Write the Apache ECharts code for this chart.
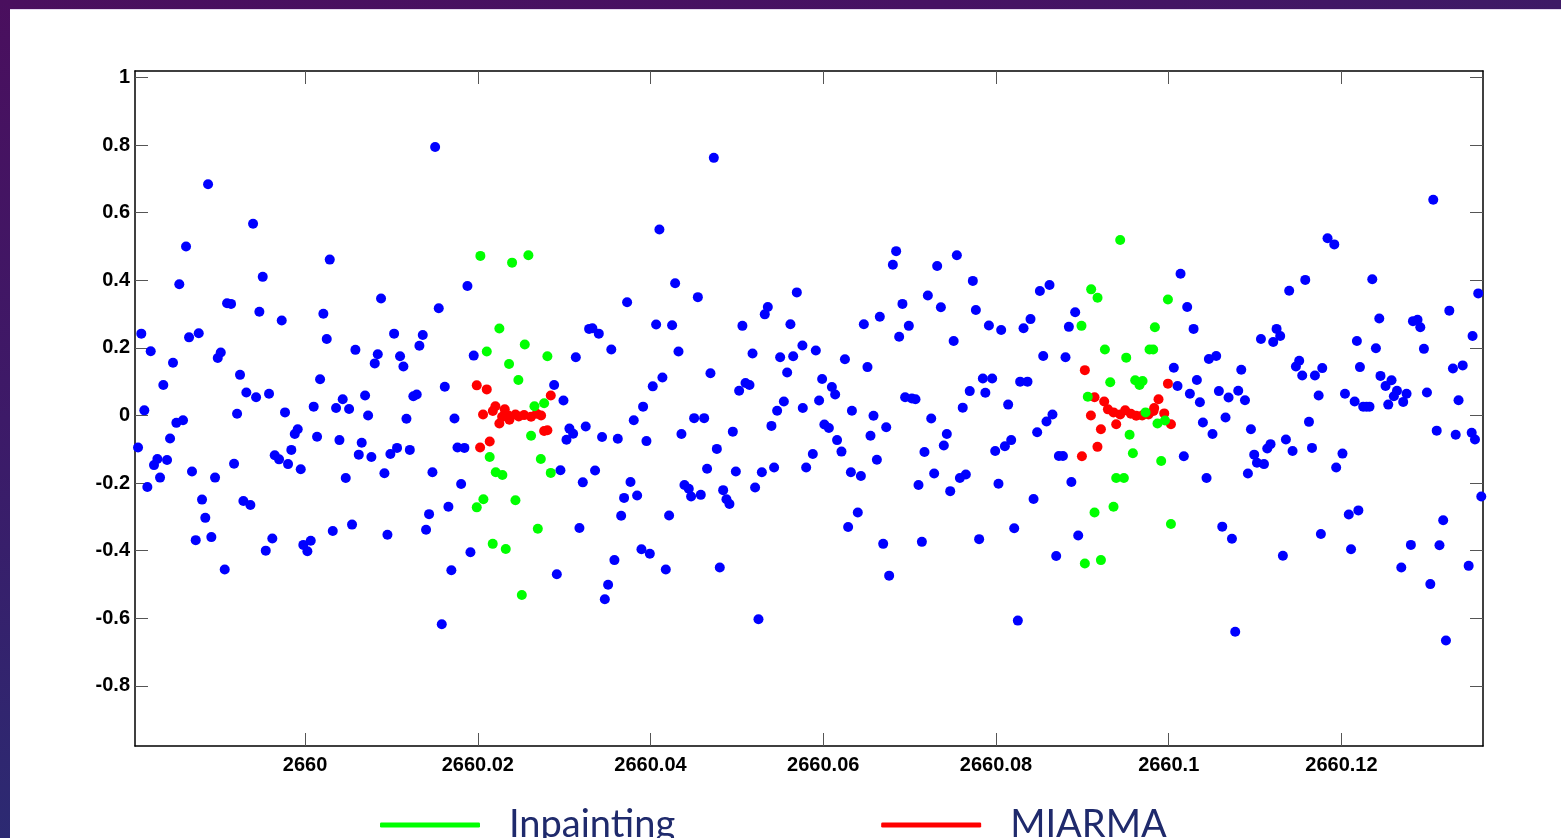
<!DOCTYPE html>
<html>
<head>
<meta charset="utf-8">
<script src="https://cdn.jsdelivr.net/npm/echarts@6/dist/echarts.min.js"></script>
<style>
html, body { margin: 0; padding: 0; background: #ffffff; }
#chart { width: 1561px; height: 838px; }
</style>
</head>
<body>
<div id="chart"></div>
<script>
// Axis ticks and their labels
const xTicks = [2660, 2660.02, 2660.04, 2660.06, 2660.08, 2660.1, 2660.12];
const xTickLabels = ['2660', '2660.02', '2660.04', '2660.06', '2660.08', '2660.1', '2660.12'];
const yTicks = [-0.8, -0.6, -0.4, -0.2, 0, 0.2, 0.4, 0.6, 0.8, 1];
const yTickLabels = ['-0.8', '-0.6', '-0.4', '-0.2', '0', '0.2', '0.4', '0.6', '0.8', '1'];

// Observed light-curve samples [time, flux]
const bluePoints = [
  [2659.98877, 0.684], [2659.99398, 0.567], [2659.98622, 0.500], [2659.99510, 0.410], [2659.98544, 0.388],
  [2659.99097, 0.332], [2659.99143, 0.330], [2659.99471, 0.307], [2659.99730, 0.281], [2659.98104, 0.242],
  [2659.98657, 0.231], [2659.98769, 0.243], [2659.98213, 0.190], [2659.99024, 0.186], [2659.98989, 0.170],
  [2659.98471, 0.156], [2659.99247, 0.120], [2659.98359, 0.090], [2659.99320, 0.068], [2659.99433, 0.054],
  [2659.99583, 0.064], [2659.98139, 0.015], [2659.99213, 0.005], [2659.99768, 0.009], [2659.98510, -0.022],
  [2659.98587, -0.014], [2659.99915, -0.041], [2659.99881, -0.055], [2659.98437, -0.068], [2659.98066, -0.095],
  [2659.99841, -0.102], [2659.98290, -0.129], [2659.98251, -0.147], [2659.98402, -0.132], [2659.99649, -0.118],
  [2659.99699, -0.130], [2659.99178, -0.143], [2659.99803, -0.144], [2659.99950, -0.159], [2659.98691, -0.166],
  [2659.98321, -0.184], [2659.98958, -0.184], [2659.98174, -0.212], [2659.98807, -0.249], [2659.99286, -0.253],
  [2659.99367, -0.265], [2659.98845, -0.303], [2659.98734, -0.369], [2659.98915, -0.360], [2659.99621, -0.364],
  [2659.99545, -0.400], [2659.99070, -0.456],
  [2660.01506, 0.794], [2660.00286, 0.461], [2660.01880, 0.383], [2660.00880, 0.346], [2660.01548, 0.317],
  [2660.00212, 0.301], [2660.00251, 0.226], [2660.01031, 0.242], [2660.01363, 0.238], [2660.01324, 0.206],
  [2660.00583, 0.194], [2660.00842, 0.181], [2660.00807, 0.154], [2660.01100, 0.175], [2660.01139, 0.145],
  [2660.01953, 0.177], [2660.00174, 0.107], [2660.01618, 0.085], [2660.00695, 0.059], [2660.00436, 0.048],
  [2660.00359, 0.022], [2660.00510, 0.019], [2660.00100, 0.026], [2660.01254, 0.057], [2660.01293, 0.062],
  [2660.00730, 0.000], [2660.01174, -0.010], [2660.01730, -0.009], [2660.00139, -0.063], [2660.00398, -0.073],
  [2660.00656, -0.081], [2660.00622, -0.116], [2660.00768, -0.123], [2660.00988, -0.114], [2660.01065, -0.096],
  [2660.01213, -0.102], [2660.01765, -0.095], [2660.01845, -0.096], [2660.00471, -0.185], [2660.00919, -0.171],
  [2660.01475, -0.168], [2660.01807, -0.203], [2660.01660, -0.270], [2660.01436, -0.292], [2660.01401, -0.338],
  [2660.00544, -0.323], [2660.00321, -0.342], [2660.00954, -0.353], [2659.99980, -0.383], [2660.00066, -0.371],
  [2660.00027, -0.402], [2660.01915, -0.405], [2660.01694, -0.458], [2660.01583, -0.618],
  [2660.03729, 0.335], [2660.03289, 0.256], [2660.03327, 0.258], [2660.03401, 0.242], [2660.03546, 0.195],
  [2660.03135, 0.172], [2660.02884, 0.090], [2660.02992, 0.044], [2660.03914, 0.026], [2660.03806, -0.014],
  [2660.03250, -0.033], [2660.03061, -0.039], [2660.03104, -0.054], [2660.03027, -0.072], [2660.03439, -0.064],
  [2660.03621, -0.069], [2660.03953, -0.076], [2660.02957, -0.162], [2660.03358, -0.163], [2660.03216, -0.198],
  [2660.03768, -0.197], [2660.03694, -0.244], [2660.03845, -0.237], [2660.03660, -0.297], [2660.03177, -0.333],
  [2660.03582, -0.428], [2660.02915, -0.470], [2660.03509, -0.501], [2660.03471, -0.544],
  [2660.04733, 0.762], [2660.04103, 0.550], [2660.04285, 0.391], [2660.04548, 0.350], [2660.05694, 0.364],
  [2660.05358, 0.321], [2660.05323, 0.299], [2660.04065, 0.269], [2660.04250, 0.267], [2660.05064, 0.265],
  [2660.05620, 0.270], [2660.04324, 0.189], [2660.05181, 0.183], [2660.05501, 0.172], [2660.05652, 0.175],
  [2660.05759, 0.207], [2660.05914, 0.192], [2660.05582, 0.127], [2660.04694, 0.125], [2660.04138, 0.112],
  [2660.04026, 0.086], [2660.05100, 0.096], [2660.05146, 0.090], [2660.05026, 0.073], [2660.05544, 0.041],
  [2660.05466, 0.014], [2660.05952, 0.044], [2660.05763, 0.022], [2660.04505, -0.008], [2660.04621, -0.008],
  [2660.05400, -0.031], [2660.04953, -0.048], [2660.04358, -0.055], [2660.04768, -0.099], [2660.05879, -0.114],
  [2660.04655, -0.158], [2660.04988, -0.166], [2660.05289, -0.168], [2660.05431, -0.154], [2660.05802, -0.154],
  [2660.04393, -0.206], [2660.04443, -0.217], [2660.04470, -0.240], [2660.04582, -0.235], [2660.04841, -0.221],
  [2660.05211, -0.213], [2660.04879, -0.248], [2660.04914, -0.262], [2660.04215, -0.296], [2660.03895, -0.396],
  [2660.03992, -0.409], [2660.04177, -0.456], [2660.04802, -0.450], [2660.05250, -0.603],
  [2660.06844, 0.486], [2660.06806, 0.446], [2660.07547, 0.474], [2660.07319, 0.442], [2660.07732, 0.398],
  [2660.07211, 0.355], [2660.06917, 0.330], [2660.07362, 0.320], [2660.07767, 0.312], [2660.06655, 0.292],
  [2660.06470, 0.270], [2660.06991, 0.265], [2660.07918, 0.266], [2660.06879, 0.233], [2660.07510, 0.220],
  [2660.06251, 0.166], [2660.06512, 0.143], [2660.05987, 0.108], [2660.06100, 0.084], [2660.06138, 0.062],
  [2660.06948, 0.054], [2660.07026, 0.050], [2660.07068, 0.048], [2660.07696, 0.072], [2660.07877, 0.067],
  [2660.07615, 0.023], [2660.06332, 0.014], [2660.06582, -0.001], [2660.06729, -0.035], [2660.07250, -0.009],
  [2660.06013, -0.027], [2660.06065, -0.037], [2660.06547, -0.060], [2660.07431, -0.055], [2660.07396, -0.089],
  [2660.06160, -0.073], [2660.06211, -0.107], [2660.07172, -0.108], [2660.06621, -0.131], [2660.06320, -0.168],
  [2660.06436, -0.179], [2660.07284, -0.172], [2660.07103, -0.206], [2660.07582, -0.185], [2660.07651, -0.175],
  [2660.07470, -0.224], [2660.06400, -0.287], [2660.06288, -0.330], [2660.06694, -0.380], [2660.07142, -0.374],
  [2660.07805, -0.366], [2660.06763, -0.474],
  [2660.08508, 0.368], [2660.08620, 0.386], [2660.08917, 0.305], [2660.08400, 0.285], [2660.08060, 0.253],
  [2660.08319, 0.258], [2660.08844, 0.262], [2660.08547, 0.176], [2660.08805, 0.172], [2660.07848, 0.109],
  [2660.07956, 0.109], [2660.08280, 0.100], [2660.08365, 0.100], [2660.08141, 0.032], [2660.08654, 0.003],
  [2660.08585, -0.018], [2660.08477, -0.050], [2660.08176, -0.073], [2660.08103, -0.091], [2660.07991, -0.105],
  [2660.08728, -0.120], [2660.08775, -0.120], [2660.08029, -0.202], [2660.08873, -0.197], [2660.08435, -0.247],
  [2660.08211, -0.334], [2660.08952, -0.355], [2660.08697, -0.416], [2660.08253, -0.607],
  [2660.10137, 0.419], [2660.11581, 0.401], [2660.11395, 0.369], [2660.10214, 0.321], [2660.10288, 0.256],
  [2660.11068, 0.226], [2660.11249, 0.256], [2660.11291, 0.235], [2660.11210, 0.217], [2660.10465, 0.167],
  [2660.10550, 0.176], [2660.10840, 0.135], [2660.10059, 0.141], [2660.11473, 0.145], [2660.11511, 0.162],
  [2660.11546, 0.118], [2660.11693, 0.118], [2660.10102, 0.087], [2660.10326, 0.105], [2660.10245, 0.064],
  [2660.10361, 0.039], [2660.10581, 0.072], [2660.10693, 0.053], [2660.10805, 0.073], [2660.10883, 0.045],
  [2660.11736, 0.059], [2660.10658, -0.006], [2660.10396, -0.021], [2660.10507, -0.055], [2660.10952, -0.041],
  [2660.11624, -0.019], [2660.11357, -0.071], [2660.11179, -0.085], [2660.11141, -0.098], [2660.11434, -0.105],
  [2660.11659, -0.096], [2660.10990, -0.116], [2660.11022, -0.140], [2660.11103, -0.144], [2660.10917, -0.172],
  [2660.10175, -0.121], [2660.10438, -0.185], [2660.10620, -0.329], [2660.10732, -0.365], [2660.11322, -0.415],
  [2660.10770, -0.640],
  [2660.11839, 0.524], [2660.11917, 0.506], [2660.13063, 0.638], [2660.12357, 0.403], [2660.13584, 0.361],
  [2660.13249, 0.310], [2660.12438, 0.287], [2660.12828, 0.279], [2660.12881, 0.283], [2660.12913, 0.261],
  [2660.13518, 0.235], [2660.12179, 0.220], [2660.12399, 0.199], [2660.12955, 0.197], [2660.11778, 0.140],
  [2660.12214, 0.143], [2660.13291, 0.139], [2660.13404, 0.148], [2660.12452, 0.117], [2660.12580, 0.104],
  [2660.12511, 0.087], [2660.12643, 0.073], [2660.12607, 0.057], [2660.12754, 0.064], [2660.12715, 0.040],
  [2660.12542, 0.032], [2660.12990, 0.068], [2660.13356, 0.045], [2660.12041, 0.064], [2660.12153, 0.041],
  [2660.12252, 0.026], [2660.12290, 0.026], [2660.12325, 0.026], [2660.13103, -0.045], [2660.13323, -0.057],
  [2660.13508, -0.051], [2660.13546, -0.071], [2660.12012, -0.113], [2660.11939, -0.154], [2660.13619, -0.240],
  [2660.12085, -0.293], [2660.12196, -0.281], [2660.11762, -0.351], [2660.12111, -0.396], [2660.13178, -0.310],
  [2660.12804, -0.383], [2660.13135, -0.384], [2660.12693, -0.450], [2660.13473, -0.445], [2660.13029, -0.499],
  [2660.13210, -0.666]
];

// Gap-filled samples from the inpainting method
const inpaintingPoints = [
  [2660.02030, 0.472], [2660.02397, 0.452], [2660.02586, 0.474], [2660.02250, 0.257], [2660.02544, 0.210],
  [2660.02104, 0.189], [2660.02362, 0.152], [2660.02806, 0.175], [2660.02470, 0.105], [2660.02656, 0.027],
  [2660.02768, 0.036], [2660.02617, -0.060], [2660.02138, -0.123], [2660.02730, -0.129], [2660.02208, -0.168],
  [2660.02285, -0.176], [2660.02845, -0.170], [2660.02065, -0.248], [2660.01988, -0.272], [2660.02436, -0.251],
  [2660.02695, -0.335], [2660.02173, -0.380], [2660.02324, -0.395], [2660.02510, -0.531],
  [2660.09438, 0.519], [2660.09102, 0.373], [2660.09176, 0.348], [2660.08990, 0.265], [2660.09840, 0.261],
  [2660.09991, 0.343], [2660.09261, 0.195], [2660.09778, 0.195], [2660.09820, 0.195], [2660.09508, 0.171],
  [2660.09323, 0.098], [2660.09612, 0.104], [2660.09697, 0.102], [2660.09662, 0.090], [2660.09063, 0.055],
  [2660.09732, 0.009], [2660.09957, -0.015], [2660.09870, -0.024], [2660.09547, -0.057], [2660.09585, -0.112],
  [2660.09913, -0.135], [2660.09392, -0.185], [2660.09481, -0.185], [2660.09141, -0.287], [2660.09361, -0.270],
  [2660.10026, -0.321], [2660.09029, -0.438], [2660.09215, -0.428]
];

// Gap-filled samples from MIARMA
const miarmaPoints = [
  [2660.01988, 0.089], [2660.02104, 0.077], [2660.02845, 0.059], [2660.02061, 0.003], [2660.02204, 0.027],
  [2660.02174, 0.013], [2660.02312, 0.018], [2660.02354, 0.000], [2660.02282, -0.004], [2660.02250, -0.024],
  [2660.02366, -0.013], [2660.02436, 0.003], [2660.02474, -0.003], [2660.02536, 0.001], [2660.02617, -0.004],
  [2660.02683, 0.005], [2660.02733, 0.000], [2660.02768, -0.046], [2660.02806, -0.044], [2660.02138, -0.077],
  [2660.02027, -0.095],
  [2660.09029, 0.134], [2660.09141, 0.054], [2660.09253, 0.041], [2660.09099, 0.000], [2660.09296, 0.018],
  [2660.09361, 0.009], [2660.09438, 0.003], [2660.09496, 0.015], [2660.09562, 0.005], [2660.09624, -0.001],
  [2660.09693, 0.000], [2660.09766, 0.003], [2660.09824, 0.013], [2660.09882, 0.048], [2660.09392, -0.026],
  [2660.09215, -0.041], [2660.09175, -0.093], [2660.08995, -0.121], [2660.09991, 0.094], [2660.09832, 0.022],
  [2660.09948, 0.006], [2660.10026, -0.026]
];

const X_MIN = 2659.98031, X_MAX = 2660.13639;
const Y_MIN = -0.978, Y_MAX = 1.019;

function labelFor(ticks, labels) {
  return function (v) {
    const i = ticks.findIndex(function (t) { return Math.abs(t - v) < 1e-7; });
    return i >= 0 ? labels[i] : '';
  };
}

const frameLine = { show: true, onZero: false, lineStyle: { color: '#000', width: 1.5 } };
const tickStyle = { lineStyle: { color: '#555', width: 1 } };

const chart = echarts.init(document.getElementById('chart'), null, { renderer: 'canvas' });

chart.setOption({
  animation: false,
  backgroundColor: '#ffffff',
  grid: { left: 135, right: 78, top: 71, bottom: 92, containLabel: false },
  xAxis: [
    {
      type: 'value', position: 'bottom', min: X_MIN, max: X_MAX,
      axisLine: frameLine,
      axisTick: Object.assign({ show: true, inside: true, length: 13, customValues: xTicks }, tickStyle),
      axisLabel: {
        show: true, customValues: xTicks, formatter: labelFor(xTicks, xTickLabels),
        color: '#000', fontFamily: 'Liberation Sans, Arial, sans-serif', fontWeight: 'bold', fontSize: 20, margin: 9
      },
      splitLine: { show: false }
    },
    {
      type: 'value', position: 'top', min: X_MIN, max: X_MAX,
      axisLine: frameLine,
      axisTick: Object.assign({ show: true, inside: true, length: 13, customValues: xTicks }, tickStyle),
      axisLabel: { show: false },
      splitLine: { show: false }
    }
  ],
  yAxis: [
    {
      type: 'value', position: 'left', min: Y_MIN, max: Y_MAX,
      axisLine: frameLine,
      axisTick: Object.assign({ show: true, inside: true, length: 13, customValues: yTicks }, tickStyle),
      axisLabel: {
        show: true, customValues: yTicks, formatter: labelFor(yTicks, yTickLabels),
        color: '#000', fontFamily: 'Liberation Sans, Arial, sans-serif', fontWeight: 'bold', fontSize: 20, margin: 5
      },
      splitLine: { show: false }
    },
    {
      type: 'value', position: 'right', min: Y_MIN, max: Y_MAX,
      axisLine: frameLine,
      axisTick: Object.assign({ show: true, inside: true, length: 13, customValues: yTicks }, tickStyle),
      axisLabel: { show: false },
      splitLine: { show: false }
    }
  ],
  legend: {
    left: 380, top: 806, padding: 0,
    itemWidth: 100, itemHeight: 5, itemGap: 206,
    icon: 'roundRect',
    data: ['Inpainting', 'MIARMA'],
    itemStyle: { opacity: 1 },
    textStyle: {
      fontFamily: 'Lato, "Open Sans", sans-serif', fontSize: 38, color: '#1f2a6c',
      padding: [0, 0, 10, 24]
    },
    selectedMode: false
  },
  graphic: [
    {
      type: 'rect', left: 0, top: 0, silent: true, z: 100,
      shape: { width: 1561, height: 9 },
      style: {
        fill: new echarts.graphic.LinearGradient(0, 0, 1, 0, [
          { offset: 0, color: '#4a0f5e' }, { offset: 0.6, color: '#461263' }, { offset: 1, color: '#3e1a66' }
        ])
      }
    },
    {
      type: 'rect', left: 0, top: 0, silent: true, z: 100,
      shape: { width: 10, height: 838 },
      style: {
        fill: new echarts.graphic.LinearGradient(0, 0, 0, 1, [
          { offset: 0, color: '#4a0f5e' }, { offset: 0.5, color: '#3d1a68' }, { offset: 1, color: '#2c2a72' }
        ])
      }
    },
    {
      type: 'rect', left: 10, top: 9, silent: true, z: 100,
      shape: { width: 1551, height: 1 },
      style: { fill: '#e4d8ee' }
    }
  ],
  series: [
    {
      name: 'Observed', type: 'scatter', xAxisIndex: 0, yAxisIndex: 0,
      data: bluePoints, symbol: 'circle', symbolSize: 10,
      itemStyle: { color: '#0000ff', opacity: 1 }, emphasis: { disabled: true }
    },
    {
      name: 'MIARMA', type: 'scatter', xAxisIndex: 0, yAxisIndex: 0,
      data: miarmaPoints, symbol: 'circle', symbolSize: 10,
      itemStyle: { color: '#ff0000', opacity: 1 }, emphasis: { disabled: true }
    },
    {
      name: 'Inpainting', type: 'scatter', xAxisIndex: 0, yAxisIndex: 0,
      data: inpaintingPoints, symbol: 'circle', symbolSize: 10,
      itemStyle: { color: '#00ff00', opacity: 1 }, emphasis: { disabled: true }
    }
  ]
});
</script>
</body>
</html>
